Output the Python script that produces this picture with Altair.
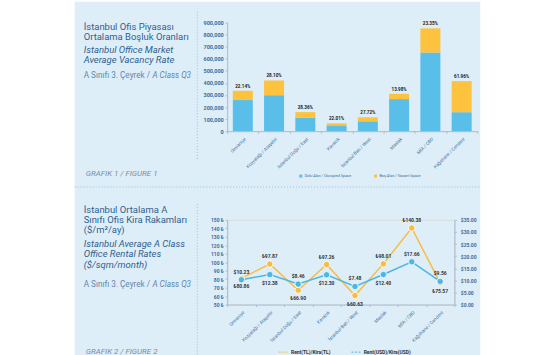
import altair as alt
import pandas as pd

# ---------------- data ----------------
districts = ["Ümraniye", "Kozyatağı / Ataşehir", "İstanbul Doğu / East", "Kavacık",
             "İstanbul Batı / West", "Maslak", "MİA / CBD", "Kağıthane / Cendere"]
occupied = [258000, 298000, 112000, 48000, 82000, 266000, 652000, 157000]
vacant = [77000, 122000, 46000, 17000, 33000, 44000, 200000, 258000]
vacancy_rate = ["22.14%", "28.10%", "28.36%", "22.01%", "27.72%", "13.98%", "23.35%", "61.96%"]
space_names = ["Dolu Alan / Occupied Space", "Boş Alan / Vacant Space"]
y1_ticks = [0, 100000, 200000, 300000, 400000, 500000, 600000, 700000, 800000, 900000]

rent_tl = [80.86, 97.87, 66.90, 97.26, 60.63, 98.01, 140.38, 75.57]
rent_usd = [10.23, 12.38, 8.46, 12.30, 7.48, 12.40, 17.66, 9.56]
rent_names = ["Rent(TL)/Kira(TL)", "Rent(USD)/Kira(USD)"]
tl_ticks = [50, 60, 70, 80, 90, 100, 110, 120, 130, 140, 150]
usd_ticks = [0, 5, 10, 15, 20, 25, 30, 35]
tl_label_above = ["Kozyatağı / Ataşehir", "Kavacık", "Maslak", "MİA / CBD"]
usd_label_above = ["Ümraniye", "İstanbul Doğu / East", "İstanbul Batı / West", "MİA / CBD",
                   "Kağıthane / Cendere"]

title1 = ["İstanbul Ofis Piyasası", "Ortalama Boşluk Oranları"]
title1_en = ["Istanbul Office Market", "Average Vacancy Rate"]
title2 = ["İstanbul Ortalama A", "Sınıfı Ofis Kira Rakamları", "($/m²/ay)"]
title2_en = ["Istanbul Average A Class", "Office Rental Rates", "($/sqm/month)"]
sub_tr = "A Sınıfı 3. Çeyrek /"
sub_en = "A Class Q3"
fig1 = "GRAFIK 1 / FIGURE 1"
fig2 = "GRAFIK 2 / FIGURE 2"

# ---------------- styles ----------------
FONT = "Roboto, sans-serif"
AX_FONT = "Roboto, sans-serif"
BG = "#deeef9"
BLUE = "#59bfe9"
ORANGE = "#fdc23e"
LBLUE = "#4db6e4"
LORANGE = "#f9bb43"
TITLE = "#2f5f8e"
SUB = "#5f86ad"
FIGC = "#7d8d9c"
AXC = "#3d6d99"
DOM = "#a7bccd"
DOT = "#8cc4e6"
TS = 9.5   # title font size
SS = 8.2   # subtitle font size

one = pd.DataFrame({"k": [0]})


def txt(s, x, y, size, color, italic=False, bold=False, font=FONT):
    return alt.Chart(one).mark_text(
        text=s, align="left", baseline="alphabetic", fontSize=size, font=font,
        fontStyle="italic" if italic else "normal",
        fontWeight="bold" if bold else "normal", color=color,
    ).encode(x=alt.value(x), y=alt.value(y))


def rect(x, x2, y, y2, color):
    return alt.Chart(one).mark_rect(color=color).encode(
        x=alt.value(x), x2=alt.value(x2), y=alt.value(y), y2=alt.value(y2))


def vline(x, y, y2):
    return alt.Chart(one).mark_rule(color=DOT, strokeDash=[1, 2], strokeWidth=1).encode(
        x=alt.value(x), y=alt.value(y), y2=alt.value(y2))


def hline(x, x2, y):
    return alt.Chart(one).mark_rule(color=DOT, strokeDash=[1, 2], strokeWidth=1).encode(
        x=alt.value(x), x2=alt.value(x2), y=alt.value(y))


# chart 1 origin in page: (227, 21); chart 2 origin: (227, 219)
X0 = 227
Y1 = 21
Y2 = 219
W1, H1 = 251, 109
W2, H2 = 228, 85

# ---------------- chart 1 ----------------
rows = []
for d, o, v in zip(districts, occupied, vacant):
    rows.append({"district": d, "space": space_names[0], "value": o, "ord": 0})
    rows.append({"district": d, "space": space_names[1], "value": v, "ord": 1})
bar_df = pd.DataFrame(rows)
tot_df = pd.DataFrame({"district": districts,
                       "total": [o + v for o, v in zip(occupied, vacant)],
                       "rate": vacancy_rate})

x1_axis = alt.Axis(labelAngle=-45, labelFontSize=4.6, labelColor=AXC, labelFont=AX_FONT,
                   domainColor=DOM, tickColor=DOM, tickSize=2, tickBand="extent",
                   labelPadding=3, labelLimit=200, zindex=1)
y1_axis = alt.Axis(values=y1_ticks, labelExpr="format(datum.value, ',')", labelFontSize=5.5,
                   labelColor=AXC, labelFont=AX_FONT, labelFontWeight="bold", grid=False,
                   domainColor=DOM, tickColor=DOM, tickSize=2, labelPadding=2, zindex=1)
y1_scale = alt.Scale(domain=[0, 900000], nice=False)
x1 = alt.X("district:N", sort=districts, title=None,
           scale=alt.Scale(paddingInner=0, paddingOuter=0), axis=x1_axis)

bars = alt.Chart(bar_df).mark_bar(width=alt.RelativeBandSize(0.64)).encode(
    x=x1,
    y=alt.Y("value:Q", stack="zero", title=None, scale=y1_scale, axis=y1_axis),
    color=alt.Color("space:N", scale=alt.Scale(domain=space_names, range=[BLUE, ORANGE]),
                    legend=alt.Legend(orient="none", legendX=72, legendY=152, direction="horizontal",
                                      columns=2, title=None, symbolType="square", symbolSize=9,
                                      labelFontSize=3.8, labelColor=AXC, labelFont=AX_FONT,
                                      columnPadding=22, labelOffset=2, symbolStrokeWidth=0)),
    order=alt.Order("ord:Q"),
)
bar_labels = alt.Chart(tot_df).mark_text(
    baseline="bottom", dy=-2, fontSize=4.6, fontWeight="bold", color="#222", font=AX_FONT
).encode(
    x=x1,
    y=alt.Y("total:Q", title=None, scale=y1_scale, axis=y1_axis),
    text="rate:N",
)

deco1 = [
    rect(-X0, 555 - X0, -Y1, 355 - Y1, "white"),
    rect(74 - X0, 481 - X0, -Y1, 355 - Y1, BG),
    vline(197 - X0, 10 - Y1, 160 - Y1),
    hline(74 - X0, 481 - X0, 186 - Y1),
    vline(197 - X0, 203 - Y1, 355 - Y1),
    txt(title1[0], 83 - X0, 28.5 - Y1, TS, TITLE),
    txt(title1[1], 83 - X0, 38.5 - Y1, TS, TITLE),
    txt(title1_en[0], 83 - X0, 52 - Y1, TS, TITLE, italic=True),
    txt(title1_en[1], 83 - X0, 62 - Y1, TS, TITLE, italic=True),
    txt(sub_tr, 83 - X0, 77 - Y1, SS, SUB),
    txt(sub_en, 152 - X0, 77 - Y1, SS, SUB, italic=True),
    txt(fig1, 85 - X0, 175 - Y1, 8, FIGC, italic=True),
]

chart1 = alt.layer(*deco1, bars, bar_labels).properties(width=W1, height=H1)

# ---------------- chart 2 ----------------
tl_df = pd.DataFrame({"district": districts, "value": rent_tl, "series": rent_names[0],
                      "label": ["₺{:.2f}".format(v) for v in rent_tl]})
usd_df = pd.DataFrame({"district": districts, "value": rent_usd, "series": rent_names[1],
                       "label": ["${:.2f}".format(v) for v in rent_usd]})

x2 = alt.X("district:N", sort=districts, title=None,
           scale=alt.Scale(type="band", paddingInner=0, paddingOuter=0),
           axis=alt.Axis(labelAngle=-45, labelFontSize=4.6, labelColor=AXC, labelFont=AX_FONT,
                         domainColor=DOM, tickColor=DOM, tickSize=2, tickBand="extent",
                         labelPadding=3, labelLimit=200))
y_tl = alt.Y("value:Q", title=None, scale=alt.Scale(domain=[50, 150], nice=False),
             axis=alt.Axis(orient="left", values=tl_ticks, labelExpr="datum.value + ' ₺'",
                           labelFontSize=5, labelColor=AXC, labelFont=AX_FONT, labelFontWeight="bold",
                           grid=False, domainColor=DOM, tickColor=DOM, tickSize=2, labelPadding=2))
y_usd = alt.Y("value:Q", title=None, scale=alt.Scale(domain=[0, 35], nice=False),
              axis=alt.Axis(orient="right", values=usd_ticks, format="$.2f",
                            labelFontSize=5, labelColor=AXC, labelFont=AX_FONT, labelFontWeight="bold",
                            grid=False, domainColor=DOM, tickColor=DOM, tickSize=2, labelPadding=4))
col2 = alt.Color("series:N", scale=alt.Scale(domain=rent_names, range=[LORANGE, LBLUE]),
                 legend=alt.Legend(orient="none", legendX=51, legendY=127, direction="horizontal",
                                   columns=2, title=None, symbolType="stroke", symbolSize=90,
                                   symbolDash=[2, 1.5], symbolStrokeWidth=1,
                                   labelFontSize=5, labelColor="#333", labelFont=AX_FONT,
                                   labelFontWeight="bold", columnPadding=18, labelOffset=2))


def series_layer(df, y_enc, color, above_list):
    base = alt.Chart(df)
    line = base.mark_line(strokeWidth=1.5).encode(x=x2, y=y_enc, color=col2)
    pts = base.mark_circle(size=42, opacity=1, color=color, stroke="white", strokeWidth=0.8).encode(
        x=x2, y=y_enc)
    lab_kw = dict(fontSize=5, fontWeight="bold", color="#333", font=AX_FONT, baseline="middle")
    above = base.mark_text(dy=-8, **lab_kw).encode(x=x2, y=y_enc, text="label:N").transform_filter(
        alt.FieldOneOfPredicate(field="district", oneOf=above_list))
    below = base.mark_text(dy=8, **lab_kw).encode(x=x2, y=y_enc, text="label:N").transform_filter(
        ~alt.FieldOneOfPredicate(field="district", oneOf=above_list))
    return alt.layer(line, pts, above, below)


deco2 = [
    txt(title2[0], 83 - X0, 211.7 - Y2, TS, TITLE),
    txt(title2[1], 83 - X0, 221.7 - Y2, TS, TITLE),
    txt(title2[2], 83 - X0, 232.5 - Y2, TS, TITLE),
    txt(title2_en[0], 83 - X0, 246.5 - Y2, TS, TITLE, italic=True),
    txt(title2_en[1], 83 - X0, 256.5 - Y2, TS, TITLE, italic=True),
    txt(title2_en[2], 83 - X0, 267.5 - Y2, TS, TITLE, italic=True),
    txt(sub_tr, 83 - X0, 286 - Y2, SS, SUB),
    txt(sub_en, 152 - X0, 286 - Y2, SS, SUB, italic=True),
    txt(fig2, 85 - X0, 354 - Y2, 8, FIGC, italic=True),
]

chart2 = alt.layer(
    alt.layer(*deco2),
    series_layer(tl_df, y_tl, LORANGE, tl_label_above),
    series_layer(usd_df, y_usd, LBLUE, usd_label_above),
).resolve_scale(y="independent").properties(width=W2, height=H2)

chart = alt.vconcat(chart1, chart2, spacing=Y2 - Y1 - H1, bounds="flush").resolve_scale(
    color="independent", x="independent", y="independent"
).properties(padding=0).configure_view(stroke=None).configure(background="white")

chart.save("out.html", embed_options={"renderer": "svg", "actions": False})
